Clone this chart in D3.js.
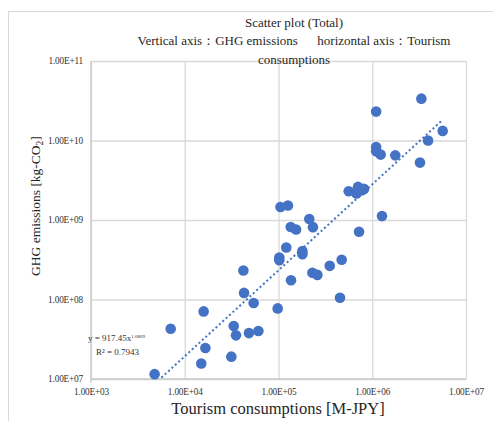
<!DOCTYPE html>
<html>
<head>
<meta charset="utf-8">
<script src="https://cdn.jsdelivr.net/npm/d3@7"></script>
<style>
  html, body { margin: 0; padding: 0; background: #fff; }
  svg { display: block; }
</style>
</head>
<body>
<svg id="chart" width="493" height="421"></svg>
<script>
// Tourism consumption [M-JPY] and GHG emissions [kg-CO2], one pair per region
const tourism = [
  3.34e6, 1.10e6, 5.64e6, 3.94e6, 1.10e6, 1.10e6, 1.23e6, 1.76e6, 3.23e6,
  5.61e5, 7.05e5, 6.80e5, 8.17e5, 7.78e5, 1.27e6, 1.05e5, 1.26e5, 2.13e5,
  1.35e5, 1.54e5, 2.33e5, 7.23e5, 1.21e5, 1.80e5, 1.80e5, 1.02e5, 1.02e5,
  4.22e4, 4.72e5, 3.52e5, 2.30e5, 2.60e5, 1.36e5, 4.29e4, 5.43e4, 4.53e5,
  9.80e4, 1.59e4, 7.08e3, 3.33e4, 3.52e4, 4.84e4, 6.10e4, 1.66e4, 1.50e4,
  3.14e4, 4.77e3
];
const ghg = [
  3.36e10, 2.31e10, 1.32e10, 1.00e10, 8.30e9, 7.30e9, 6.65e9, 6.50e9, 5.27e9,
  2.30e9, 2.61e9, 2.15e9, 2.46e9, 2.37e9, 1.12e9, 1.46e9, 1.52e9, 1.03e9,
  8.18e8, 7.60e8, 8.13e8, 7.10e8, 4.51e8, 4.06e8, 3.72e8, 3.38e8, 3.12e8,
  2.32e8, 3.16e8, 2.65e8, 2.17e8, 2.04e8, 1.75e8, 1.21e8, 9.02e7, 1.05e8,
  7.73e7, 7.08e7, 4.29e7, 4.63e7, 3.54e7, 3.78e7, 4.01e7, 2.45e7, 1.57e7,
  1.91e7, 1.15e7
];
const xTicks = [1e3, 1e4, 1e5, 1e6, 1e7];
const yTicks = [1e7, 1e8, 1e9, 1e10, 1e11];
// power-law trendline y = a * x^b
const trendA = 917.45;
const trendB = 1.0809;
const trendR2 = 0.7943;
const titleLines = [
  "Scatter plot (Total)",
  "Vertical axis\uFF1AGHG emissions\u2003\u2002horizontal axis\uFF1ATourism",
  "consumptions"
];

const svg = d3.select("#chart");
const serif = "'Liberation Serif', 'DejaVu Serif', serif";
const blue = "#4472C4";
const grid = "#d9d9d9";

const plot = { left: 91, right: 466, top: 61, bottom: 379 };

const x = d3.scaleLog().domain([1e3, 1e7]).range([plot.left, plot.right]);
const y = d3.scaleLog().domain([1e7, 1e11]).range([plot.bottom, plot.top]);

const fmtExp = v => {
  const e = Math.round(Math.log10(v));
  return "1.00E+" + (e < 10 ? "0" + e : e);
};

// chart frame
svg.append("rect")
  .attr("x", 8.5).attr("y", 11.5)
  .attr("width", 600).attr("height", 600)
  .attr("fill", "none").attr("stroke", grid).attr("stroke-width", 1);

// gridlines via axes
const gx = svg.append("g")
  .attr("transform", `translate(0,${plot.bottom})`)
  .call(d3.axisBottom(x).tickValues(xTicks).tickSize(-(plot.bottom - plot.top)).tickFormat(fmtExp).tickPadding(9));
const gy = svg.append("g")
  .attr("transform", `translate(${plot.left},0)`)
  .call(d3.axisLeft(y).tickValues(yTicks).tickSize(-(plot.right - plot.left)).tickFormat(fmtExp).tickPadding(8));

[gx, gy].forEach(g => {
  g.select(".domain").remove();
  g.selectAll(".tick line").attr("stroke", grid).attr("stroke-width", 1.3);
  g.selectAll(".tick text")
    .attr("fill", "#333")
    .attr("font-family", serif)
    .attr("font-size", 9.3)
    .attr("letter-spacing", -0.2);
});
// axis lines (left and bottom) slightly darker
svg.append("line").attr("x1", plot.left).attr("x2", plot.left).attr("y1", plot.top).attr("y2", plot.bottom + 4)
  .attr("stroke", "#c8c8c8").attr("stroke-width", 1.3);
svg.append("line").attr("x1", plot.left).attr("x2", plot.right).attr("y1", plot.bottom).attr("y2", plot.bottom)
  .attr("stroke", "#c8c8c8").attr("stroke-width", 1.3);

// clip for trendline
svg.append("clipPath").attr("id", "plotClip")
  .append("rect")
  .attr("x", plot.left).attr("y", plot.top)
  .attr("width", plot.right - plot.left).attr("height", plot.bottom - plot.top);

// points
const pts = tourism.map((v, i) => ({ t: v, g: ghg[i] }));
svg.append("g").selectAll("circle")
  .data(pts)
  .join("circle")
  .attr("cx", d => x(d.t))
  .attr("cy", d => y(d.g))
  .attr("r", 5.3)
  .attr("fill", blue);

// trendline over the data range
const xMin = d3.min(tourism), xMax = d3.max(tourism);
const trendPts = d3.range(0, 41).map(i => {
  const lx = Math.log10(xMin) + (Math.log10(xMax) - Math.log10(xMin)) * i / 40;
  const xv = Math.pow(10, lx);
  return [xv, trendA * Math.pow(xv, trendB)];
});
svg.append("path")
  .attr("clip-path", "url(#plotClip)")
  .attr("d", d3.line().x(d => x(d[0])).y(d => y(d[1]))(trendPts))
  .attr("fill", "none")
  .attr("stroke", blue)
  .attr("stroke-width", 2)
  .attr("stroke-dasharray", "2 2.6");

// trendline equation
const eq = svg.append("text")
  .attr("x", 88).attr("y", 341)
  .attr("font-family", serif).attr("font-size", 9).attr("fill", "#333");
eq.append("tspan").text("y = " + trendA + "x");
eq.append("tspan").attr("dy", -3.5).attr("font-size", 5).text(trendB.toFixed(4));
svg.append("text")
  .attr("x", 96).attr("y", 355)
  .attr("font-family", serif).attr("font-size", 9).attr("fill", "#333")
  .text("R\u00B2 = " + trendR2);

// title
const titleY = [27, 45, 64];
titleLines.forEach((t, i) => {
  svg.append("text")
    .attr("x", 294).attr("y", titleY[i])
    .attr("text-anchor", "middle")
    .attr("font-family", serif).attr("font-size", 13).attr("fill", "#262626")
    .text(t);
});

// axis titles
svg.append("text")
  .attr("x", 278).attr("y", 414)
  .attr("text-anchor", "middle")
  .attr("font-family", serif).attr("font-size", 16.5).attr("fill", "#262626")
  .text("Tourism consumptions [M-JPY]");

const yt = svg.append("text")
  .attr("transform", "translate(40,206) rotate(-90)")
  .attr("text-anchor", "middle")
  .attr("font-family", serif).attr("font-size", 13.5).attr("fill", "#262626");
yt.append("tspan").text("GHG emissions [kg-CO");
yt.append("tspan").attr("font-size", 9.5).attr("dy", 3).text("2");
yt.append("tspan").attr("dy", -3).text("]");
</script>
</body>
</html>
